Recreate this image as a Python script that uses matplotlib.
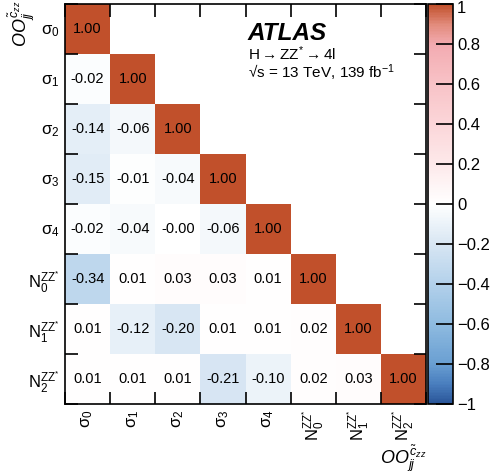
import numpy as np
import matplotlib
matplotlib.use("Agg")
import matplotlib.pyplot as plt
from matplotlib.colors import LinearSegmentedColormap
from matplotlib.transforms import ScaledTranslation

plt.rcParams['font.family'] = ['Liberation Sans', 'DejaVu Sans']
plt.rcParams['mathtext.fontset'] = 'custom'
plt.rcParams['mathtext.rm'] = 'Liberation Sans'
plt.rcParams['mathtext.it'] = 'Liberation Sans:italic'
plt.rcParams['mathtext.bf'] = 'Liberation Sans:bold'

labels = ['σ$_0$', 'σ$_1$', 'σ$_2$', 'σ$_3$', 'σ$_4$',
          r'N$_0^{\mathrm{ZZ}^{*}}$', r'N$_1^{\mathrm{ZZ}^{*}}$', r'N$_2^{\mathrm{ZZ}^{*}}$']

row_s0 = [1.00]
row_s1 = [-0.02, 1.00]
row_s2 = [-0.14, -0.06, 1.00]
row_s3 = [-0.15, -0.01, -0.04, 1.00]
row_s4 = [-0.02, -0.04, -0.0, -0.06, 1.00]
row_n0 = [-0.34, 0.01, 0.03, 0.03, 0.01, 1.00]
row_n1 = [0.01, -0.12, -0.20, 0.01, 0.01, 0.02, 1.00]
row_n2 = [0.01, 0.01, 0.01, -0.21, -0.10, 0.02, 0.03, 1.00]
rows = [row_s0, row_s1, row_s2, row_s3, row_s4, row_n0, row_n1, row_n2]

cb_ticks = [-1, -0.8, -0.6, -0.4, -0.2, 0, 0.2, 0.4, 0.6, 0.8, 1]

n = len(labels)
M = np.full((n, n), np.nan)
for i, r in enumerate(rows):
    M[i, :len(r)] = r

nodes = [(-1.0, '#2a5699'), (-0.9, '#4a7fbf'), (-0.8, '#6a9fd2'), (-0.6, '#8fbbe0'),
         (-0.4, '#b3d1eb'), (-0.2, '#d8e6f3'), (0.0, '#ffffff'), (0.2, '#fde9ea'),
         (0.4, '#fbd6d9'), (0.6, '#f8c3c7'), (0.8, '#f3abb1'), (0.9, '#e28b7c'),
         (1.0, '#c1502b')]
cmap = LinearSegmentedColormap.from_list('atlas', [((v + 1) / 2, c) for v, c in nodes])

fig = plt.figure(figsize=(4.93, 4.75), dpi=100)
W, H = 493, 475
ax = fig.add_axes([65 / W, 1 - 404 / H, 361 / W, 400 / H])
cax = fig.add_axes([428 / W, 1 - 404 / H, 25 / W, 400 / H])

Mm = np.ma.masked_invalid(M)
im = ax.pcolormesh(np.arange(n + 1), np.arange(n + 1), Mm, cmap=cmap, vmin=-1, vmax=1)
ax.set_xlim(0, n)
ax.set_ylim(n, 0)

for i in range(n):
    for j in range(n):
        if not np.isnan(M[i, j]):
            ax.text(j + 0.5, i + 0.5, f"{M[i, j]:.2f}", ha='center', va='center', fontsize=10.5)

ax.set_xticks(np.arange(n + 1))
ax.set_yticks(np.arange(n + 1))
ax.set_xticklabels([])
ax.set_yticklabels([])
ax.tick_params(which='major', direction='in', length=9, width=1.2, top=True, right=True,
               labelbottom=False, labelleft=False)
ax.set_xticks(np.arange(n) + 0.5, minor=True)
ax.set_yticks(np.arange(n) + 0.5, minor=True)
ax.set_xticklabels(labels, minor=True, rotation=90, fontsize=12)
ax.set_yticklabels(labels, minor=True, fontsize=12)
ax.tick_params(which='minor', length=0, pad=4)
for s in ax.spines.values():
    s.set_linewidth(1.2)

fig.text(22 / W, 1 - 1 / H, r'$OO_{jj}^{\tilde{c}_{zz}}$', rotation=90, ha='center', va='top',
         fontsize=13)
fig.text(426 / W, 1 - 459 / H, r'$OO_{jj}^{\tilde{c}_{zz}}$', ha='right', va='center', fontsize=13)

fig.text(247 / W, 1 - 34 / H, 'ATLAS', fontsize=17.5, fontweight='bold', fontstyle='italic',
         ha='left', va='center')
fig.text(248 / W, 1 - 54 / H, r'$\mathrm{H \rightarrow ZZ^{*} \rightarrow 4l}$', fontsize=11,
         ha='left', va='center')
fig.text(248 / W, 1 - 73 / H, '\u221as = 13 TeV, 139 fb$^{\\mathrm{-1}}$', fontsize=11,
         ha='left', va='center')

cb = fig.colorbar(im, cax=cax)
cb.set_ticks(cb_ticks)
cb.set_ticklabels(['\u22121', '\u22120.8', '\u22120.6', '\u22120.4', '\u22120.2', '0',
                   '0.2', '0.4', '0.6', '0.8', '1'])
cax.tick_params(direction='in', length=12, width=1.2, labelsize=12, pad=3)
cb.outline.set_linewidth(1.2)

top_lbl = cax.get_yticklabels()[-1]
top_lbl.set_transform(top_lbl.get_transform() + ScaledTranslation(0, -3 / 100, fig.dpi_scale_trans))

fig.savefig('out.png', dpi=100)
